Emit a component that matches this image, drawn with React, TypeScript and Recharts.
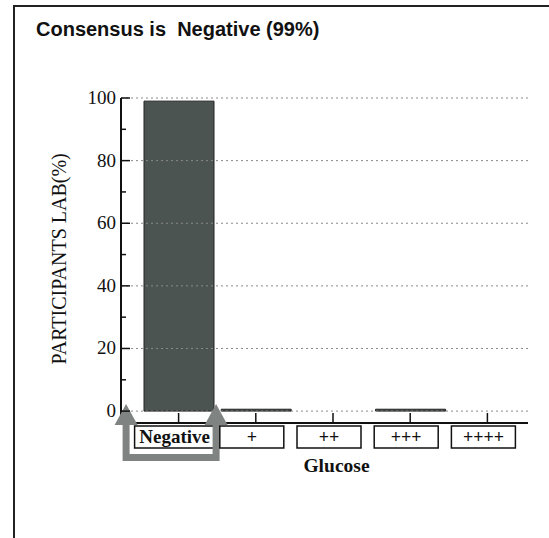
import { BarChart, Bar, XAxis, YAxis, ReferenceLine } from "recharts";

const categories = ["Negative", "+", "++", "+++", "++++"];
const participants = [99, 0.6, 0, 0.6, 0];
const yTicks = [0, 10, 20, 30, 40, 50, 60, 70, 80, 90, 100];
const gridTicks = [0, 20, 40, 60, 80, 100];
const title = "Consensus is  Negative (99%)";
const yLabel = "PARTICIPANTS LAB(%)";
const xLabel = "Glucose";

const data = categories.map((c, i) => ({ name: c, value: participants[i] }));

const SERIF = "'Liberation Serif', 'DejaVu Serif', serif";

function YTick(props: any) {
  const { x, y, payload } = props;
  const major = payload.value % 20 === 0;
  return (
    <g>
      <line x1={x} y1={y} x2={x + (major ? 9 : 5)} y2={y} stroke="#111" strokeWidth={1.5} />
      {major && (
        <text x={x - 5} y={y + 6} textAnchor="end" fontFamily={SERIF} fontSize={19} fill="#111">
          {payload.value}
        </text>
      )}
    </g>
  );
}

function XTick(props: any) {
  const { x, y, payload, index } = props;
  const long = payload.value.length > 4;
  const w = long ? 80 : 64;
  const cx = x - 4;
  return (
    <g>
      <line x1={x} y1={y} x2={x} y2={y - 10} stroke="#111" strokeWidth={1.5} />
      <rect x={cx - w / 2} y={y + 3} width={w} height={22} fill="#fff" stroke="#111" strokeWidth={1.5} />
      <text x={cx} y={y + 20} textAnchor="middle" fontFamily={SERIF} fontSize={long ? 19 : 18} fontWeight={long ? 600 : 700} fill="#111">
        {payload.value}
      </text>
      {index === 0 && (
        <g fill="#7f8482" stroke="none">
          <path d={`M ${x - 56} ${y - 2} L ${x - 49} ${y - 2} L ${x - 49} ${y + 31} L ${x + 34} ${y + 31} L ${x + 34} ${y - 2} L ${x + 41} ${y - 2} L ${x + 41} ${y + 38} L ${x - 56} ${y + 38} Z`} />
          <path d={`M ${x - 52.5} ${y - 19} L ${x - 41} ${y + 2} L ${x - 64} ${y + 2} Z`} />
          <path d={`M ${x + 37.5} ${y - 19} L ${x + 49} ${y + 2} L ${x + 26} ${y + 2} Z`} />
        </g>
      )}
    </g>
  );
}

export default function App() {
  return (
    <div style={{ position: "absolute", left: 0, top: 0, width: 549, height: 538, background: "#fff" }}>
      <div
        style={{
          position: "absolute",
          left: 13,
          top: 5,
          width: 534,
          height: 540,
          borderLeft: "2px solid #222",
          borderTop: "2px solid #222",
          borderRight: "2px solid #222",
        }}
      />
      <div
        style={{
          position: "absolute",
          left: 36,
          top: 18,
          fontFamily: "'Liberation Sans', Arial, sans-serif",
          fontWeight: 700,
          fontSize: 20,
          color: "#111",
          whiteSpace: "pre",
        }}
      >
        {title}
      </div>
      <div style={{ position: "absolute", left: 0, top: 0 }}>
        <BarChart width={549} height={538} data={data} margin={{ top: 98, right: 21, bottom: 85, left: 71 }}>
          {gridTicks.map((t) => (
            <ReferenceLine key={t} y={t} stroke="#8a8a8a" strokeDasharray="2 3" />
          ))}
          <XAxis
            dataKey="name"
            padding={{ left: 19, right: 2 }}
            axisLine={{ stroke: "#111", strokeWidth: 2 }}
            tickLine={false}
            tickSize={0}
            tickMargin={0}
            tick={<XTick />}
            interval={0}
            label={{ value: xLabel, position: "insideBottom", offset: -19, fontFamily: SERIF, fontSize: 19.5, fontWeight: 700, fill: "#111", dx: 12 }}
          />
          <YAxis
            domain={[-3.8, 100]}
            ticks={yTicks}
            allowDataOverflow
            width={50}
            axisLine={{ stroke: "#111", strokeWidth: 2 }}
            tickLine={false}
            tickSize={0}
            tickMargin={0}
            tick={<YTick />}
            interval={0}
            label={{ value: yLabel, angle: -90, position: "insideLeft", offset: -12, dy: 104, fontFamily: SERIF, fontSize: 20, fill: "#111" }}
          />
          <Bar dataKey="value" fill="#4c5452" stroke="#222" strokeWidth={1} barSize={70} isAnimationActive={false} />
        </BarChart>
      </div>
    </div>
  );
}
